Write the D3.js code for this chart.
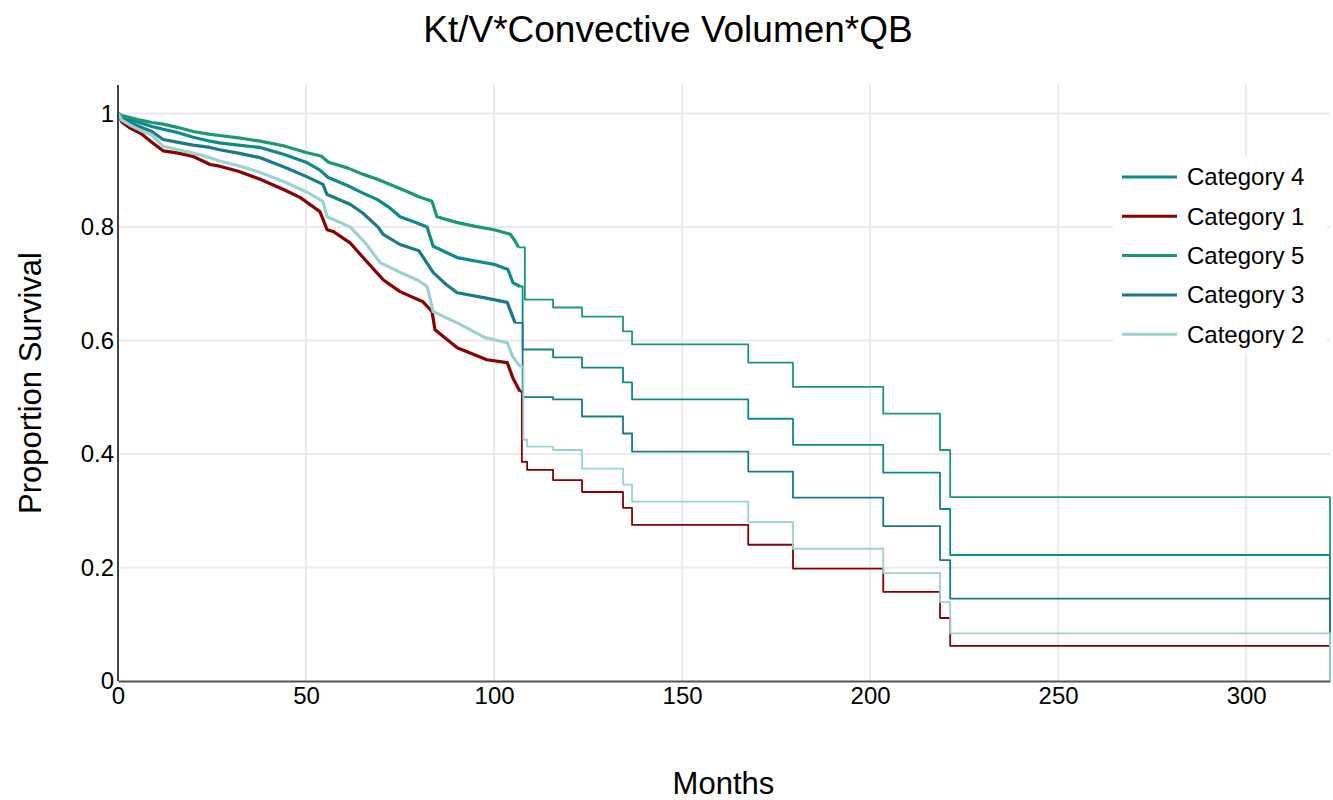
<!DOCTYPE html>
<html>
<head>
<meta charset="utf-8">
<script src="https://cdn.jsdelivr.net/npm/d3@7"></script>
<style>
  body { margin: 0; background: #fff; }
  text { font-family: "Liberation Sans", Arial, sans-serif; fill: #000; }
</style>
</head>
<body>
<div id="chart"></div>
<script>

// survival curves, months / proportion surviving
var cat4Time = [0, 1, 3, 6, 9, 12, 16, 20, 24.5, 27, 32, 37.8, 44, 50, 53.7, 55.9, 61, 65, 69, 72, 75, 79, 82.2, 83.8, 90.2, 95, 100, 103.7, 105, 106.9, 107.6, 115.7, 123.4, 134.3, 136.7, 167.6, 179.5, 203.5, 218.6, 221.3, 322.3];
var cat4Surv = [1, 0.994, 0.989, 0.983, 0.977, 0.972, 0.966, 0.958, 0.951, 0.948, 0.944, 0.94, 0.928, 0.914, 0.9, 0.887, 0.873, 0.86, 0.848, 0.835, 0.818, 0.808, 0.8, 0.766, 0.746, 0.74, 0.734, 0.725, 0.702, 0.695, 0.584, 0.57, 0.552, 0.526, 0.496, 0.462, 0.416, 0.367, 0.303, 0.222, 0];

var cat1Time = [0, 1, 3, 6, 9, 12, 16, 20, 24.5, 27, 32, 37.8, 44, 48.4, 53.7, 55.6, 57.2, 61.7, 66, 70.5, 75, 81.1, 83.5, 84.3, 90.2, 98.1, 103.5, 105, 106.9, 107.4, 108.8, 115.7, 123.4, 134.3, 136.7, 167.6, 179.5, 203.5, 218.6, 221.3, 322.3];
var cat1Surv = [1, 0.985, 0.975, 0.965, 0.949, 0.934, 0.93, 0.924, 0.91, 0.907, 0.898, 0.884, 0.866, 0.852, 0.827, 0.795, 0.792, 0.772, 0.74, 0.707, 0.686, 0.668, 0.651, 0.619, 0.587, 0.566, 0.561, 0.534, 0.51, 0.386, 0.372, 0.354, 0.333, 0.305, 0.275, 0.24, 0.198, 0.157, 0.111, 0.062, 0];

var cat5Time = [0, 1, 3, 6, 9, 12, 16, 20, 24.5, 27, 32, 37.8, 44, 50, 54, 56, 61, 65, 69, 73, 77, 80, 83.5, 84.8, 90, 95, 100, 104.3, 105.5, 106.5, 108.2, 115.7, 123.4, 134.3, 136.7, 167.6, 179.5, 203.5, 218.6, 221.3, 322.3];
var cat5Surv = [1, 0.996, 0.993, 0.988, 0.984, 0.981, 0.975, 0.968, 0.963, 0.961, 0.957, 0.951, 0.943, 0.931, 0.925, 0.914, 0.904, 0.893, 0.884, 0.873, 0.862, 0.853, 0.845, 0.818, 0.808, 0.801, 0.795, 0.787, 0.776, 0.764, 0.672, 0.658, 0.642, 0.616, 0.593, 0.561, 0.518, 0.471, 0.407, 0.324, 0];

var cat3Time = [0, 1, 3, 6, 9, 12, 16, 20, 24.5, 27, 32, 37.8, 44, 50, 54.5, 55.6, 61.7, 65, 69.1, 70.5, 75, 80, 83.8, 87, 90.2, 97.6, 103.5, 105.6, 107.6, 115.7, 123.4, 134.3, 136.7, 167.6, 179.5, 203.5, 218.6, 221.3, 322.3];
var cat3Surv = [1, 0.99, 0.984, 0.976, 0.968, 0.954, 0.949, 0.944, 0.94, 0.936, 0.93, 0.922, 0.906, 0.889, 0.875, 0.857, 0.84, 0.825, 0.8, 0.787, 0.769, 0.758, 0.72, 0.7, 0.684, 0.675, 0.667, 0.631, 0.5, 0.496, 0.466, 0.436, 0.404, 0.369, 0.323, 0.273, 0.213, 0.145, 0];

var cat2Time = [0, 1, 3, 6, 9, 12, 16, 20, 24.5, 27, 32, 37.8, 44, 50, 54.5, 55.6, 61.7, 66, 69.7, 75, 80, 82.2, 83.8, 90.2, 97.6, 103.5, 105, 106.9, 107.8, 108.8, 115.7, 123.4, 134.3, 136.7, 167.6, 179.5, 203.5, 218.6, 221.3, 322.3];
var cat2Surv = [1, 0.988, 0.98, 0.97, 0.962, 0.942, 0.936, 0.93, 0.922, 0.916, 0.908, 0.896, 0.88, 0.862, 0.845, 0.818, 0.8, 0.77, 0.737, 0.72, 0.705, 0.695, 0.651, 0.631, 0.605, 0.596, 0.571, 0.554, 0.425, 0.413, 0.407, 0.374, 0.346, 0.316, 0.28, 0.233, 0.19, 0.139, 0.084, 0];

var seriesNames  = ["Category 4", "Category 1", "Category 5", "Category 3", "Category 2"];
var seriesTimes  = [cat4Time, cat1Time, cat5Time, cat3Time, cat2Time];
var seriesSurv   = [cat4Surv, cat1Surv, cat5Surv, cat3Surv, cat2Surv];
var seriesColors = ["#0f8a8a", "#8b0000", "#1a9a74", "#1a7a8b", "#9cd3d1"];

var xTicks = [0, 50, 100, 150, 200, 250, 300];
var yTicks = [0, 0.2, 0.4, 0.6, 0.8, 1];


var width  = 1333;
var height = 800;
var margin = { left: 118, right: 3, top: 85, bottom: 119 };

var svg = d3.select("#chart")
	.append("svg")
	.attr("width", width)
	.attr("height", height);

var x = d3.scaleLinear()
	.domain([0, 322.3])
	.range([margin.left, width - margin.right]);

var y = d3.scaleLinear()
	.domain([0, 1.05])
	.range([height - margin.bottom, margin.top]);

// grid
svg.append("g")
	.selectAll("line.vg")
	.data(xTicks.slice(1))
	.enter().append("line")
	.attr("x1", function(d){ return x(d); })
	.attr("x2", function(d){ return x(d); })
	.attr("y1", y(0))
	.attr("y2", margin.top)
	.attr("stroke", "#ebebeb")
	.attr("stroke-width", 2);

svg.append("g")
	.selectAll("line.hg")
	.data(yTicks.slice(1))
	.enter().append("line")
	.attr("x1", x(0))
	.attr("x2", width - margin.right)
	.attr("y1", function(d){ return y(d); })
	.attr("y2", function(d){ return y(d); })
	.attr("stroke", "#ebebeb")
	.attr("stroke-width", 2);

// curves: steps after the big drop, the dense early part is joined point to point
var stepLine = d3.line()
	.x(function(d){ return x(d[0]); })
	.y(function(d){ return y(d[1]); })
	.curve(d3.curveStepAfter);

var denseLine = d3.line()
	.x(function(d){ return x(d[0]); })
	.y(function(d){ return y(d[1]); })
	.curve(d3.curveLinear);

svg.append("clipPath").attr("id", "plotclip")
	.append("rect")
	.attr("x", x(0)).attr("y", margin.top)
	.attr("width", width - margin.right - x(0) + 1)
	.attr("height", y(0) - margin.top);

var denseUntil = 107;

var curves = svg.append("g").attr("clip-path", "url(#plotclip)");
for (var i = 0; i < seriesNames.length; i++) {
	var pts = d3.zip(seriesTimes[i], seriesSurv[i]);
	var cut = pts.findIndex(function(p){ return p[0] > denseUntil; });
	curves.append("path")
		.datum(pts.slice(cut - 1))
		.attr("d", stepLine)
		.attr("fill", "none")
		.attr("stroke", seriesColors[i])
		.attr("stroke-width", 1.8)
		.attr("stroke-linejoin", "round");
	curves.append("path")
		.datum(pts.slice(0, cut))
		.attr("d", denseLine)
		.attr("fill", "none")
		.attr("stroke", seriesColors[i])
		.attr("stroke-width", 3.2)
		.attr("stroke-linejoin", "round");
}

// axes
var xAxis = d3.axisBottom(x).tickValues(xTicks).tickSize(0).tickPadding(8).tickFormat(d3.format("d"));
var gx = svg.append("g")
	.attr("transform", "translate(0," + y(0) + ")")
	.call(xAxis);
gx.select(".domain").attr("stroke", "#555").attr("stroke-width", 2);
gx.selectAll("text").style("font-size", "24px").attr("font-family", null).attr("dy", "0.71em").attr("y", 6);

var yAxis = d3.axisLeft(y).tickValues(yTicks).tickSize(0).tickPadding(4)
	.tickFormat(function(d){ return d3.format("")(+d.toFixed(1)); });
var gy = svg.append("g")
	.attr("transform", "translate(" + x(0) + ",0)")
	.call(yAxis);
gy.select(".domain").attr("stroke", "#444").attr("stroke-width", 2)
	.attr("d", "M0," + y(0) + "V" + margin.top);
gy.selectAll("text").style("font-size", "24px").attr("font-family", null);

// titles
svg.append("text")
	.attr("x", 668).attr("y", 42)
	.attr("text-anchor", "middle")
	.style("font-size", "37px")
	.text("Kt/V*Convective Volumen*QB");

svg.append("text")
	.attr("x", x(161)).attr("y", 794)
	.attr("text-anchor", "middle")
	.style("font-size", "31px")
	.text("Months");

svg.append("text")
	.attr("transform", "translate(41," + ((margin.top + y(0)) / 2) + ") rotate(-90)")
	.attr("text-anchor", "middle")
	.style("font-size", "31px")
	.text("Proportion Survival");

// legend
var lg = svg.append("g").attr("transform", "translate(1113,157)");
lg.append("rect")
	.attr("width", 214).attr("height", 196)
	.attr("fill", "#fff");
for (var k = 0; k < seriesNames.length; k++) {
	var row = lg.append("g").attr("transform", "translate(0," + (20 + k * 39.3) + ")");
	row.append("line")
		.attr("x1", 9).attr("x2", 64)
		.attr("stroke", seriesColors[k])
		.attr("stroke-width", 3);
	row.append("text")
		.attr("x", 74).attr("dy", "0.35em")
		.style("font-size", "24px")
		.text(seriesNames[k]);
}

</script>
</body>
</html>
